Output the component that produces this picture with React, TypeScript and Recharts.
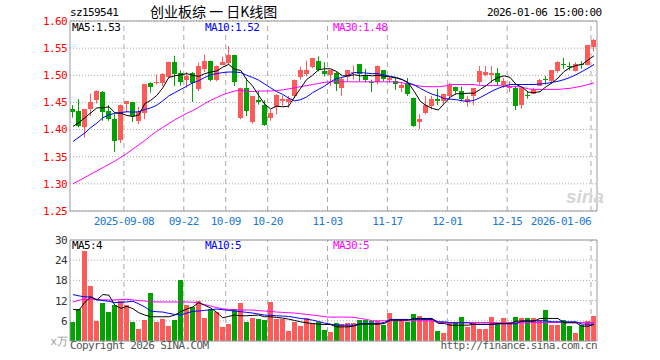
import React from "react";
import {
    Bar,
    CartesianGrid,
    ComposedChart,
    Line,
    ReferenceLine,
    XAxis,
    YAxis,
} from "recharts";

const dates = [
    "2025-08-26", "2025-08-27", "2025-08-28", "2025-08-29", "2025-09-01", "2025-09-02", "2025-09-03", "2025-09-04", "2025-09-05", "2025-09-08",
    "2025-09-09", "2025-09-10", "2025-09-11", "2025-09-12", "2025-09-15", "2025-09-16", "2025-09-17", "2025-09-18", "2025-09-19", "2025-09-22",
    "2025-09-23", "2025-09-24", "2025-09-25", "2025-09-26", "2025-09-29", "2025-09-30", "2025-10-09", "2025-10-10", "2025-10-13", "2025-10-14",
    "2025-10-15", "2025-10-16", "2025-10-17", "2025-10-20", "2025-10-21", "2025-10-22", "2025-10-23", "2025-10-24", "2025-10-27", "2025-10-28",
    "2025-10-29", "2025-10-30", "2025-10-31", "2025-11-03", "2025-11-04", "2025-11-05", "2025-11-06", "2025-11-07", "2025-11-10", "2025-11-11",
    "2025-11-12", "2025-11-13", "2025-11-14", "2025-11-17", "2025-11-18", "2025-11-19", "2025-11-20", "2025-11-21", "2025-11-24", "2025-11-25",
    "2025-11-26", "2025-11-27", "2025-11-28", "2025-12-01", "2025-12-02", "2025-12-03", "2025-12-04", "2025-12-05", "2025-12-08", "2025-12-09",
    "2025-12-10", "2025-12-11", "2025-12-12", "2025-12-15", "2025-12-16", "2025-12-17", "2025-12-18", "2025-12-19", "2025-12-22", "2025-12-23",
    "2025-12-24", "2025-12-25", "2025-12-26", "2025-12-29", "2025-12-30", "2025-12-31", "2026-01-05", "2026-01-06",
];

const opens = [
    1.437, 1.435, 1.404, 1.439, 1.454, 1.469, 1.434, 1.420, 1.382, 1.447,
    1.450, 1.416, 1.431, 1.485, 1.487, 1.486, 1.498, 1.525, 1.504, 1.492,
    1.504, 1.475, 1.512, 1.527, 1.492, 1.520, 1.524, 1.538, 1.420, 1.476,
    1.414, 1.455, 1.446, 1.420, 1.440, 1.454, 1.451, 1.462, 1.497, 1.501,
    1.516, 1.526, 1.507, 1.501, 1.504, 1.476, 1.498, 1.504, 1.520, 1.501,
    1.488, 1.488, 1.509, 1.492, 1.490, 1.476, 1.486, 1.459, 1.414, 1.430,
    1.443, 1.456, 1.454, 1.462, 1.479, 1.471, 1.451, 1.462, 1.486, 1.501,
    1.501, 1.504, 1.483, 1.477, 1.477, 1.446, 1.464, 1.466, 1.481, 1.493,
    1.489, 1.507, 1.521, 1.518, 1.509, 1.521, 1.520, 1.553,
];
const highs = [
    1.445, 1.456, 1.438, 1.466, 1.472, 1.471, 1.445, 1.428, 1.446, 1.452,
    1.450, 1.442, 1.484, 1.487, 1.501, 1.504, 1.525, 1.536, 1.509, 1.506,
    1.506, 1.523, 1.538, 1.527, 1.518, 1.534, 1.554, 1.538, 1.477, 1.495,
    1.462, 1.471, 1.454, 1.437, 1.465, 1.463, 1.462, 1.492, 1.516, 1.527,
    1.532, 1.535, 1.524, 1.510, 1.507, 1.495, 1.510, 1.518, 1.520, 1.512,
    1.492, 1.518, 1.509, 1.498, 1.495, 1.488, 1.495, 1.459, 1.428, 1.462,
    1.462, 1.475, 1.466, 1.486, 1.479, 1.479, 1.462, 1.477, 1.517, 1.517,
    1.517, 1.513, 1.495, 1.489, 1.481, 1.477, 1.471, 1.477, 1.493, 1.499,
    1.509, 1.526, 1.532, 1.524, 1.524, 1.526, 1.556, 1.567,
];
const lows = [
    1.422, 1.404, 1.385, 1.425, 1.448, 1.416, 1.416, 1.359, 1.375, 1.431,
    1.414, 1.410, 1.419, 1.468, 1.483, 1.480, 1.495, 1.480, 1.481, 1.477,
    1.451, 1.471, 1.506, 1.489, 1.489, 1.519, 1.520, 1.480, 1.419, 1.425,
    1.411, 1.446, 1.407, 1.416, 1.428, 1.444, 1.440, 1.458, 1.492, 1.498,
    1.513, 1.507, 1.498, 1.480, 1.471, 1.462, 1.489, 1.492, 1.489, 1.487,
    1.469, 1.483, 1.489, 1.486, 1.473, 1.469, 1.462, 1.405, 1.401, 1.428,
    1.437, 1.445, 1.446, 1.456, 1.465, 1.452, 1.442, 1.445, 1.483, 1.498,
    1.486, 1.481, 1.477, 1.469, 1.436, 1.438, 1.457, 1.465, 1.480, 1.483,
    1.486, 1.504, 1.512, 1.509, 1.507, 1.512, 1.518, 1.544,
];
const closes = [
    1.432, 1.408, 1.437, 1.451, 1.471, 1.432, 1.420, 1.379, 1.446, 1.452,
    1.424, 1.433, 1.484, 1.478, 1.488, 1.503, 1.525, 1.502, 1.488, 1.499,
    1.486, 1.517, 1.527, 1.492, 1.517, 1.525, 1.538, 1.489, 1.476, 1.434,
    1.462, 1.452, 1.410, 1.430, 1.463, 1.457, 1.456, 1.492, 1.510, 1.509,
    1.532, 1.509, 1.501, 1.510, 1.483, 1.493, 1.510, 1.506, 1.501, 1.492,
    1.486, 1.518, 1.492, 1.495, 1.484, 1.482, 1.465, 1.407, 1.420, 1.445,
    1.456, 1.452, 1.466, 1.483, 1.471, 1.457, 1.457, 1.477, 1.507, 1.506,
    1.504, 1.488, 1.490, 1.481, 1.443, 1.477, 1.462, 1.475, 1.492, 1.491,
    1.509, 1.524, 1.520, 1.517, 1.521, 1.520, 1.556, 1.565,
];

const ma5 = [
    1.406, 1.413, 1.422, 1.431, 1.440, 1.440, 1.442, 1.431, 1.430, 1.426,
    1.424, 1.427, 1.448, 1.454, 1.463, 1.477, 1.496, 1.499, 1.501, 1.503,
    1.500, 1.498, 1.503, 1.506, 1.508, 1.515, 1.520, 1.511, 1.509, 1.492,
    1.480, 1.463, 1.447, 1.438, 1.443, 1.442, 1.443, 1.460, 1.476, 1.492,
    1.500, 1.510, 1.512, 1.512, 1.507, 1.499, 1.499, 1.501, 1.499, 1.500,
    1.499, 1.500, 1.498, 1.497, 1.495, 1.492, 1.486, 1.470, 1.452, 1.444,
    1.439, 1.436, 1.448, 1.460, 1.466, 1.466, 1.467, 1.467, 1.474, 1.481,
    1.490, 1.496, 1.499, 1.496, 1.483, 1.478, 1.469, 1.468, 1.470, 1.479,
    1.486, 1.495, 1.507, 1.514, 1.518, 1.520, 1.528, 1.536,
];
const ma10 = [
    1.378, 1.386, 1.394, 1.404, 1.412, 1.422, 1.427, 1.430, 1.431, 1.433,
    1.432, 1.433, 1.437, 1.440, 1.445, 1.453, 1.462, 1.468, 1.474, 1.480,
    1.486, 1.490, 1.496, 1.501, 1.503, 1.505, 1.506, 1.506, 1.505, 1.500,
    1.496, 1.491, 1.484, 1.477, 1.470, 1.465, 1.458, 1.453, 1.455, 1.460,
    1.468, 1.474, 1.480, 1.488, 1.494, 1.496, 1.500, 1.505, 1.505, 1.504,
    1.503, 1.503, 1.500, 1.498, 1.496, 1.492, 1.486, 1.482, 1.476, 1.470,
    1.465, 1.462, 1.457, 1.456, 1.455, 1.453, 1.452, 1.454, 1.459, 1.465,
    1.471, 1.476, 1.480, 1.483, 1.483, 1.483, 1.483, 1.483, 1.484, 1.485,
    1.487, 1.489, 1.492, 1.496, 1.501, 1.507, 1.513, 1.520,
];
const ma30 = [
    1.300, 1.306, 1.312, 1.318, 1.324, 1.330, 1.336, 1.342, 1.349, 1.356,
    1.364, 1.372, 1.380, 1.389, 1.397, 1.404, 1.411, 1.418, 1.424, 1.430,
    1.435, 1.441, 1.448, 1.454, 1.459, 1.464, 1.468, 1.471, 1.473, 1.470,
    1.470, 1.471, 1.471, 1.471, 1.472, 1.473, 1.475, 1.477, 1.479, 1.481,
    1.483, 1.485, 1.487, 1.488, 1.488, 1.488, 1.488, 1.488, 1.488, 1.488,
    1.488, 1.488, 1.488, 1.488, 1.488, 1.486, 1.484, 1.482, 1.480, 1.479,
    1.479, 1.479, 1.480, 1.483, 1.483, 1.483, 1.483, 1.483, 1.481, 1.481,
    1.481, 1.481, 1.480, 1.479, 1.479, 1.478, 1.475, 1.474, 1.474, 1.474,
    1.474, 1.474, 1.475, 1.476, 1.478, 1.480, 1.483, 1.486,
];

// 成交量（万手）
const volumes = [
    5.7, 9.6, 26.7, 16.3, 5.9, 11.3, 8.5, 10.8, 11.8, 10.6,
    5.5, 3.7, 6.2, 14.4, 5.7, 6.5, 4.4, 6.2, 18.1, 10.6,
    10.1, 11.8, 6.7, 9.6, 8.5, 4.2, 5.0, 9.4, 11.3, 5.7,
    6.7, 6.5, 6.2, 11.6, 6.5, 6.5, 2.9, 5.5, 4.5, 6.7,
    5.3, 5.5, 3.2, 2.7, 5.2, 5.0, 5.2, 5.2, 6.2, 6.2,
    5.9, 5.9, 4.9, 8.4, 6.4, 6.4, 5.7, 7.9, 7.5, 6.7,
    6.4, 2.9, 2.5, 5.7, 5.5, 7.2, 4.2, 5.2, 3.7, 3.5,
    7.2, 5.0, 6.9, 5.7, 7.2, 6.7, 6.7, 6.7, 6.2, 9.2,
    4.7, 4.7, 6.2, 4.5, 2.4, 4.7, 5.9, 7.5,
];
const volMa5 = [
    9.4, 9.2, 11.5, 13.1, 12.2, 13.8, 13.6, 10.6, 9.7, 10.3,
    9.6, 8.4, 7.7, 7.2, 7.2, 7.2, 7.2, 7.7, 8.7, 9.5,
    10.1, 11.4, 10.6, 9.8, 8.5, 6.9, 7.3, 7.7, 7.5, 7.5,
    7.6, 7.7, 7.2, 7.2, 7.0, 6.8, 6.5, 6.1, 5.7, 5.4,
    5.2, 5.0, 4.9, 4.9, 4.2, 4.2, 4.2, 4.5, 5.0, 5.0,
    5.0, 5.0, 5.2, 6.2, 6.2, 6.2, 6.2, 6.7, 6.7, 6.7,
    6.7, 5.2, 5.2, 4.7, 4.7, 4.7, 4.7, 5.0, 5.0, 5.0,
    5.0, 5.2, 5.2, 5.2, 5.9, 5.9, 5.9, 5.9, 6.7, 6.7,
    6.7, 6.7, 5.4, 5.4, 5.4, 4.4, 4.4, 4.9,
];
const volMa10 = [
    13.8, 13.4, 13.1, 13.1, 12.2, 12.0, 11.8, 11.4, 11.5, 11.6,
    11.8, 11.0, 10.1, 8.9, 8.7, 8.6, 8.2, 7.9, 7.7, 8.3,
    8.8, 8.9, 9.1, 9.3, 9.5, 9.3, 9.1, 8.9, 8.7, 8.5,
    8.3, 8.0, 7.7, 7.6, 7.5, 7.4, 7.3, 7.0, 6.7, 6.5,
    6.2, 5.8, 5.3, 5.0, 4.7, 4.7, 4.7, 4.7, 5.2, 5.2,
    5.2, 5.2, 5.5, 6.4, 6.4, 6.4, 6.4, 6.4, 6.4, 6.4,
    6.4, 5.7, 5.7, 5.4, 5.4, 5.4, 5.4, 4.9, 4.9, 4.9,
    4.9, 5.1, 5.1, 5.1, 5.1, 6.0, 6.0, 6.0, 6.0, 6.0,
    5.7, 5.7, 5.7, 5.7, 5.7, 5.0, 5.0, 5.0,
];
const volMa30 = [
    11.6, 12.1, 12.4, 12.4, 12.4, 12.2, 12.2, 12.2, 12.3, 12.4,
    12.2, 12.0, 11.9, 11.6, 11.6, 11.6, 11.6, 11.6, 11.6, 11.6,
    11.5, 11.2, 10.8, 10.4, 9.9, 9.6, 9.4, 9.3, 9.2, 9.2,
    9.2, 9.0, 8.9, 8.8, 8.6, 8.5, 8.4, 8.3, 8.1, 7.9,
    7.7, 7.5, 7.2, 7.1, 7.1, 7.1, 7.1, 7.0, 6.7, 6.4,
    6.0, 6.0, 6.0, 6.0, 6.0, 6.0, 6.0, 6.0, 6.0, 6.0,
    6.0, 5.5, 5.5, 5.5, 5.5, 5.5, 5.5, 5.5, 5.5, 5.5,
    5.5, 5.4, 5.4, 5.4, 5.4, 5.4, 5.4, 5.5, 5.5, 5.5,
    5.5, 5.5, 5.5, 5.5, 5.5, 5.5, 5.5, 5.5,
];

const priceTicks = [1.25, 1.3, 1.35, 1.4, 1.45, 1.5, 1.55, 1.6];
const volTicks = [0, 6, 12, 18, 24, 30];
const dateTicks = ["2025-09-08", "2025-09-22", "2025-10-09", "2025-10-20", "2025-11-03", "2025-11-17", "2025-12-01", "2025-12-15", "2026-01-06"];
const dateTickText = ["2025-09-08", "09-22", "10-09", "10-20", "11-03", "11-17", "12-01", "12-15", "2026-01-06"];

const RED = "#ff5a5a";
const GREEN = "#00a200";
const MONO = '"DejaVu Sans Mono", "Liberation Mono", monospace';
const monoStyle = { fontFamily: MONO, fontSize: 11, letterSpacing: -0.6 };

const rows = dates.map((date, i) => ({
    date,
    open: opens[i],
    high: highs[i],
    low: lows[i],
    close: closes[i],
    ma5: ma5[i],
    ma10: ma10[i],
    ma30: ma30[i],
    vol: volumes[i],
    vma5: volMa5[i],
    vma10: volMa10[i],
    vma30: volMa30[i],
}));

// 蜡烛：Bar 给出 [low, high] 的像素范围，开收盘在其中按比例取
const Candle = (props: any) => {
    const { x, y, width, height, payload } = props;
    if (x == null || y == null || !payload) return null;
    const { open, close, high, low } = payload;
    const top = Math.min(y, y + height);
    const h = Math.abs(height);
    const span = high - low;
    const toY = (v: number) => (span > 0 ? top + ((high - v) / span) * h : top);
    const color = close >= open ? RED : GREEN;
    const left = Math.round(x);
    const w = Math.round(width);
    const cx = left + Math.floor(w / 2) + 0.5;
    const y1 = toY(Math.max(open, close));
    const y2 = toY(Math.min(open, close));
    return (
        <g>
            <line x1={cx} x2={cx} y1={top} y2={top + h} stroke={color} strokeWidth={1} />
            <rect x={left} y={Math.round(y1)} width={w} height={Math.max(1, Math.round(y2 - y1))} fill={color} />
        </g>
    );
};

const VolBar = (props: any) => {
    const { x, y, width, height, payload } = props;
    if (x == null || y == null || !payload) return null;
    const color = payload.close >= payload.open ? RED : GREEN;
    const top = Math.round(Math.min(y, y + height));
    return <rect x={Math.round(x)} y={top} width={Math.round(width)} height={Math.round(Math.abs(height))} fill={color} />;
};

const DateTick = ({ x, y, payload }: any) => {
    const i = dateTicks.indexOf(payload.value);
    if (i < 0) return null;
    const last = i === dateTicks.length - 1;
    return (
        <text x={x - 3} y={y} dy="0.71em" textAnchor={last ? "end" : "middle"} fill="#1a78d6" style={monoStyle}>
            {dateTickText[i]}
        </text>
    );
};

const VolTick = ({ x, y, payload }: any) => (
    <text x={x} y={y} dy="0.355em" textAnchor="end" fill={payload.value === 0 ? "#999" : "#333"} style={monoStyle}>
        {payload.value === 0 ? "x万" : payload.value}
    </text>
);

const label = (left: number, top: number, color: string, text: string, extra: any = {}) => (
    <div
        style={{
            position: "absolute",
            left,
            top,
            color,
            fontFamily: MONO,
            fontSize: 11,
            letterSpacing: -0.6,
            lineHeight: "12px",
            whiteSpace: "nowrap",
            ...extra,
        }}
    >
        {text}
    </div>
);

const App = () => {
    return (
        <div style={{ position: "absolute", left: 0, top: 0, width: 660, height: 360, background: "#fff", overflow: "hidden" }}>
            {label(70, 7, "#000", "sz159541")}
            <div
                style={{
                    position: "absolute",
                    left: 150,
                    top: 3,
                    fontFamily: '"Noto Sans CJK SC", sans-serif',
                    fontSize: 14,
                    lineHeight: "16px",
                    color: "#000",
                    whiteSpace: "pre",
                }}
            >
                {"创业板综 一 日K线图"}
            </div>
            {label(487, 7, "#000", "2026-01-06 15:00:00")}

            <div style={{ position: "absolute", left: 0, top: 0 }}>
                <ComposedChart width={660} height={232} data={rows} margin={{ top: 21, right: 0, bottom: 0, left: 0 }}>
                    <XAxis
                        dataKey="date"
                        ticks={dateTicks}
                        interval={0}
                        height={21}
                        tickSize={0}
                        tickMargin={6}
                        axisLine={{ stroke: "#999" }}
                        tick={<DateTick />}
                    />
                    <YAxis
                        domain={[1.25, 1.6]}
                        ticks={priceTicks}
                        interval={0}
                        width={70}
                        tickSize={0}
                        tickMargin={3}
                        axisLine={{ stroke: "#999" }}
                        tick={{ fill: "#ff0000", ...monoStyle }}
                        tickFormatter={(v: number) => v.toFixed(2)}
                        allowDataOverflow
                    />
                    <YAxis
                        yAxisId="r"
                        orientation="right"
                        width={63}
                        domain={[1.25, 1.6]}
                        tick={false}
                        tickLine={false}
                        axisLine={{ stroke: "#999" }}
                    />
                    <CartesianGrid vertical={false} stroke="#aaa" strokeDasharray="1 2" />
                    {dateTicks.map((d) => (
                        <ReferenceLine key={d} x={d} position="start" stroke="#aaa" strokeDasharray="5 4" />
                    ))}
                    <ReferenceLine y={1.6} stroke="#999" />
                    <Bar
                        dataKey={(d: any) => [d.low, d.high]}
                        barSize={5}
                        shape={(p: any) => <Candle {...p} />}
                        isAnimationActive={false}
                    />
                    <Line dataKey="ma30" stroke="#ff00ff" strokeWidth={1} dot={false} isAnimationActive={false} />
                    <Line dataKey="ma10" stroke="#0000ff" strokeWidth={1} dot={false} isAnimationActive={false} />
                    <Line dataKey="ma5" stroke="#000" strokeWidth={1} dot={false} isAnimationActive={false} />
                </ComposedChart>
            </div>
            {label(72, 22, "#000", "MA5:1.53")}
            {label(205, 22, "#0000ff", "MA10:1.52")}
            {label(333, 22, "#ff00ff", "MA30:1.48")}
            <div
                style={{
                    position: "absolute",
                    left: 566,
                    top: 186,
                    fontFamily: "Liberation Sans, sans-serif",
                    fontStyle: "italic",
                    fontWeight: 700,
                    fontSize: 19,
                    color: "#d6d6d6",
                }}
            >
                sina
            </div>

            <div style={{ position: "absolute", left: 0, top: 232 }}>
                <ComposedChart width={660} height={128} data={rows} margin={{ top: 8, right: 0, bottom: 19, left: 0 }}>
                    <XAxis dataKey="date" hide />
                    <YAxis
                        domain={[0, 30]}
                        ticks={volTicks}
                        interval={0}
                        width={70}
                        tickSize={0}
                        tickMargin={3}
                        axisLine={{ stroke: "#999" }}
                        tick={<VolTick />}
                    />
                    <YAxis
                        yAxisId="r"
                        orientation="right"
                        width={63}
                        domain={[0, 30]}
                        tick={false}
                        tickLine={false}
                        axisLine={{ stroke: "#999" }}
                    />
                    <CartesianGrid vertical={false} stroke="#aaa" strokeDasharray="1 2" />
                    {dateTicks.map((d) => (
                        <ReferenceLine key={d} x={d} position="start" stroke="#aaa" strokeDasharray="5 4" />
                    ))}
                    <ReferenceLine y={30} stroke="#999" />
                    <ReferenceLine y={0} stroke="#999" />
                    <Bar dataKey="vol" barSize={5} shape={(p: any) => <VolBar {...p} />} isAnimationActive={false} />
                    <Line dataKey="vma30" stroke="#ff00ff" strokeWidth={1} dot={false} isAnimationActive={false} />
                    <Line dataKey="vma10" stroke="#0000ff" strokeWidth={1} dot={false} isAnimationActive={false} />
                    <Line dataKey="vma5" stroke="#000" strokeWidth={1} dot={false} isAnimationActive={false} />
                </ComposedChart>
            </div>
            {label(72, 240, "#000", "MA5:4")}
            {label(205, 240, "#0000ff", "MA10:5")}
            {label(333, 240, "#ff00ff", "MA30:5")}
            {label(70, 340, "#555", "Copyright 2026 SINA.COM")}
            <div
                style={{
                    position: "absolute",
                    right: 63,
                    top: 340,
                    color: "#555",
                    fontFamily: MONO,
                    fontSize: 11,
                    letterSpacing: -0.6,
                    lineHeight: "12px",
                    whiteSpace: "nowrap",
                }}
            >
                http://finance.sina.com.cn
            </div>
        </div>
    );
};

export default App;
